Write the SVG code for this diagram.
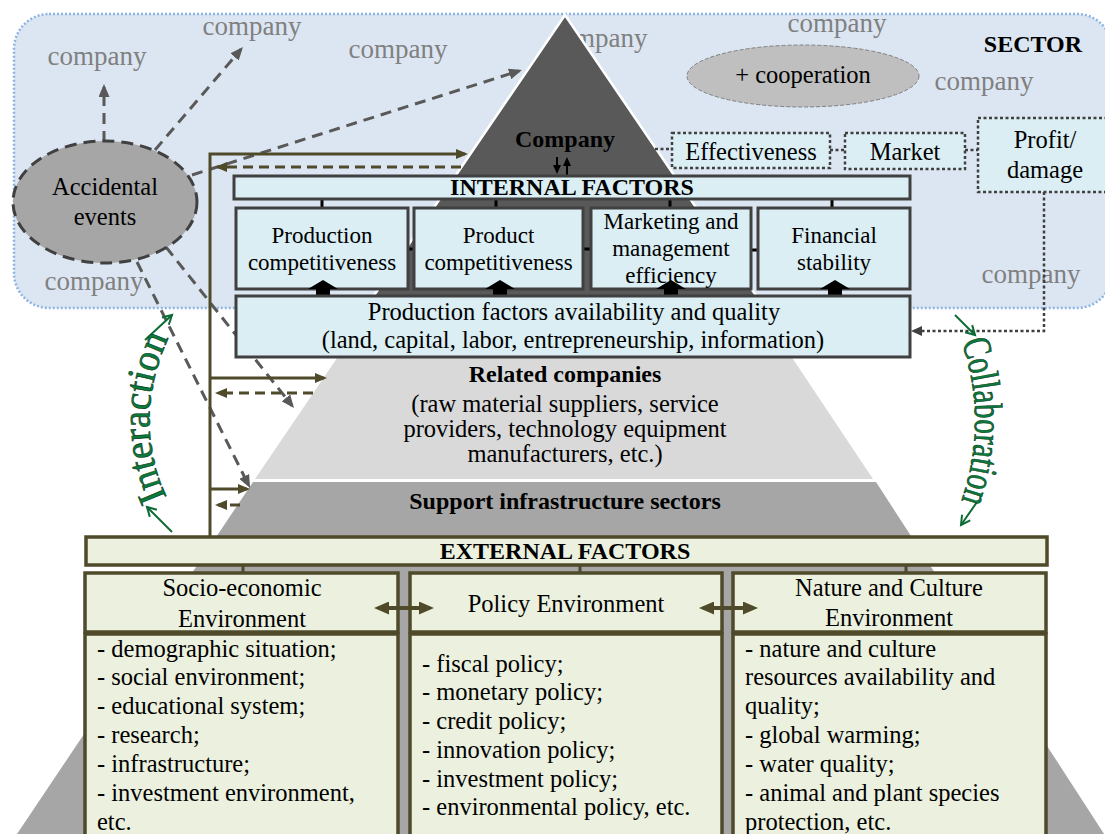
<svg xmlns="http://www.w3.org/2000/svg" width="1105" height="834" viewBox="0 0 1105 834">
<defs>
<style>
text{font-family:'Liberation Serif','Times New Roman',serif;fill:#000}
.n{font-size:24.5px}
.b{font-size:24px;font-weight:bold}
.s{font-size:23px}
.co{font-size:27px;fill:#808080}
.c{text-anchor:middle}
.ib{fill:#daeef3;stroke:#404040;stroke-width:3}
.eb{fill:#ebf1de;stroke:#4f4a2a;stroke-width:3.5}
.dot{fill:#daeef3;stroke:#404040;stroke-width:2.5;stroke-dasharray:3 2.5}
.dl{fill:none;stroke:#404040;stroke-width:2.5;stroke-dasharray:3 2.5}
.gd{fill:none;stroke:#595959;stroke-width:3;stroke-dasharray:11 7}
.ol{fill:none;stroke:#4f4a2a;stroke-width:3}
.old{fill:none;stroke:#4f4a2a;stroke-width:3;stroke-dasharray:10 6}
.gr{fill:none;stroke:#0d6b35;stroke-width:2}
.wa{font-size:40px;fill:#0b7a3b;stroke:#06361a;stroke-width:0.6}
.tk{stroke:#000;stroke-width:3}
.tko{stroke:#4f4a2a;stroke-width:3}
</style>
<marker id="ag" markerUnits="userSpaceOnUse" markerWidth="13" markerHeight="11" refX="10" refY="5.5" orient="auto"><path d="M0,0 L13,5.5 L0,11 z" fill="#595959"/></marker>
<marker id="ao" markerUnits="userSpaceOnUse" markerWidth="12" markerHeight="10" refX="9" refY="5" orient="auto"><path d="M0,0 L12,5 L0,10 z" fill="#4f4a2a"/></marker>
<marker id="ao2" markerUnits="userSpaceOnUse" markerWidth="15" markerHeight="13" refX="11" refY="6.5" orient="auto-start-reverse"><path d="M0,0 L15,6.5 L0,13 z" fill="#4f4a2a"/></marker>
<marker id="ad" markerUnits="userSpaceOnUse" markerWidth="11" markerHeight="10" refX="8" refY="5" orient="auto"><path d="M0,0 L11,5 L0,10 z" fill="#404040"/></marker>
<marker id="ab" markerUnits="userSpaceOnUse" markerWidth="9" markerHeight="8" refX="7" refY="4" orient="auto"><path d="M0,0 L9,4 L0,8 z" fill="#000"/></marker>
<marker id="agr" markerUnits="userSpaceOnUse" markerWidth="12" markerHeight="12" refX="10" refY="6" orient="auto" overflow="visible"><path d="M1,1 L10,6 L1,11" fill="none" stroke="#0d6b35" stroke-width="2"/></marker>
<path id="pi" d="M168,500 Q130,420 170,335" fill="none"/>
<path id="pc" d="M960,338 Q990,420 960,505" fill="none"/>
</defs>

<g id="sector">
<rect x="14" y="14" width="1098" height="294" rx="35" fill="#dce6f2" stroke="#8db3e2" stroke-width="2.5" stroke-dasharray="2 2"/>
<text class="co c" x="97" y="65">company</text>
<text class="co c" x="252" y="35">company</text>
<text class="co c" x="398" y="58">company</text>
<text class="co c" x="598" y="47">company</text>
<text class="co c" x="837" y="32">company</text>
<text class="co c" x="984" y="90">company</text>
<text class="co c" x="1031" y="283">company</text>
<text class="co c" x="94" y="290">company</text>
<text class="b" x="1033" y="52" text-anchor="middle">SECTOR</text>
</g>

<g id="pyramid">
<polygon points="253,482 876,482 1108,840 13,840" fill="#a6a6a6"/>
<polygon points="377,299 753,299 873,479 255,479" fill="#d9d9d9"/>
<polygon points="565,15 757,297 373,297" fill="#595959" stroke="#fff" stroke-width="2.5"/>
<text class="b c" x="565" y="147">Company</text>
<text class="b c" x="565" y="382">Related companies</text>
<text class="n c" x="565" y="412">(raw material suppliers, service</text>
<text class="n c" x="565" y="437">providers, technology equipment</text>
<text class="n c" x="565" y="462">manufacturers, etc.)</text>
<text class="b c" x="565" y="509">Support infrastructure sectors</text>
</g>

<g id="cooperation">
<ellipse cx="803" cy="76" rx="116" ry="31" fill="#bfbfbf" stroke="#7f7f7f" stroke-width="1" stroke-dasharray="4 2"/>
<text class="n c" x="803" y="83">+ cooperation</text>
</g>

<g id="connectors">
<line class="gd" x1="104" y1="142" x2="104" y2="87" marker-end="url(#ag)"/>
<line class="gd" x1="155" y1="150" x2="241" y2="49.3" marker-end="url(#ag)"/>
<line class="gd" x1="192" y1="175" x2="519.1" y2="70.9" marker-end="url(#ag)"/>
<line class="gd" x1="137" y1="262" x2="248.7" y2="485.3" marker-end="url(#ag)"/>
<line class="gd" x1="166" y1="247" x2="292.1" y2="405.7" marker-end="url(#ag)"/>
<path class="ol" d="M210,537 V154 H465" marker-end="url(#ao)"/>
<path class="old" d="M461,167 H218" marker-end="url(#ao)"/>
<path class="ol" d="M210,378 H324" marker-end="url(#ao)"/>
<path class="old" d="M313,393 H218" marker-end="url(#ao)"/>
<path class="ol" d="M210,489 H247" marker-end="url(#ao)"/>
<path class="old" d="M240,505 H218" marker-end="url(#ao)"/>
<line x1="557" y1="157" x2="557" y2="172" stroke="#000" stroke-width="2" marker-end="url(#ab)"/>
<line x1="567" y1="176" x2="567" y2="159" stroke="#000" stroke-width="2" marker-end="url(#ab)"/>
<line class="dl" x1="655" y1="149" x2="672" y2="149"/>
<line class="dl" x1="830" y1="150" x2="845" y2="150"/>
<line class="dl" x1="965" y1="150" x2="978" y2="150"/>
<path class="dl" d="M1044,192 V331 H914" marker-end="url(#ad)"/>
<line class="tk" x1="322" y1="199" x2="322" y2="208"/>
<line class="tk" x1="496" y1="199" x2="496" y2="208"/>
<line class="tk" x1="670" y1="199" x2="670" y2="208"/>
<line class="tk" x1="832" y1="199" x2="832" y2="208"/>
<line class="tk" x1="407" y1="249" x2="414" y2="249"/>
<line class="tk" x1="583" y1="249" x2="591" y2="249"/>
<line class="tk" x1="751" y1="250" x2="758" y2="250"/>
<line class="tko" x1="243" y1="564" x2="243" y2="573"/>
<line class="tko" x1="580" y1="564" x2="580" y2="573"/>
<line class="tko" x1="906" y1="564" x2="906" y2="573"/>
</g>

<g id="accidental">
<ellipse cx="105" cy="202" rx="92" ry="61" fill="#a6a6a6" stroke="#404040" stroke-width="3" stroke-dasharray="12 7"/>
<text class="n c" x="105" y="195">Accidental</text>
<text class="n c" x="105" y="225">events</text>
</g>

<g id="internal-factors">
<rect class="ib" x="234" y="176" width="676" height="23"/>
<text class="b c" x="572" y="195">INTERNAL FACTORS</text>
</g>
<g id="production-competitiveness">
<rect class="ib" x="236" y="208" width="172" height="81"/>
<text class="s c" x="322" y="243">Production</text>
<text class="s c" x="322" y="270">competitiveness</text>
</g>
<g id="product-competitiveness">
<rect class="ib" x="414" y="208" width="169" height="81"/>
<text class="s c" x="498.5" y="243">Product</text>
<text class="s c" x="498.5" y="270">competitiveness</text>
</g>
<g id="marketing">
<rect class="ib" x="591" y="208" width="160" height="81"/>
<text class="s c" x="671" y="229">Marketing and</text>
<text class="s c" x="671" y="256">management</text>
<text class="s c" x="671" y="283">efficiency</text>
</g>
<g id="financial">
<rect class="ib" x="758" y="208" width="152" height="81"/>
<text class="s c" x="834" y="243">Financial</text>
<text class="s c" x="834" y="270">stability</text>
</g>
<g id="block-arrows" fill="#000">
<polygon points="308,289 323,280 338,289 330,289 330,297 316,297 316,289"/>
<polygon points="485,289 500,280 515,289 507,289 507,297 493,297 493,289"/>
<polygon points="656,289 671,280 686,289 678,289 678,297 664,297 664,289"/>
<polygon points="820,289 835,280 850,289 842,289 842,297 828,297 828,289"/>
</g>
<g id="production-factors">
<rect class="ib" x="236" y="296" width="674" height="61"/>
<text class="n c" x="574" y="320">Production factors availability and quality</text>
<text class="n c" x="573" y="348">(land, capital, labor, entrepreneurship, information)</text>
</g>

<g id="effectiveness">
<rect class="dot" x="672" y="133" width="158" height="35"/>
<text class="n c" x="751" y="160">Effectiveness</text>
</g>
<g id="market">
<rect class="dot" x="845" y="133" width="120" height="36"/>
<text class="n c" x="905" y="160">Market</text>
</g>
<g id="profit">
<rect class="dot" x="978" y="118" width="132" height="74"/>
<text class="n c" x="1045" y="148">Profit/</text>
<text class="n c" x="1045" y="178">damage</text>
</g>

<g id="external-factors">
<rect class="eb" x="86" y="537" width="961" height="28"/>
<text class="b c" x="565" y="559">EXTERNAL FACTORS</text>
</g>
<g id="socio-economic">
<rect class="eb" x="85" y="573" width="313" height="59"/>
<rect class="eb" x="85" y="634" width="313" height="215"/>
<text class="n c" x="242" y="596">Socio-economic</text>
<text class="n c" x="242" y="627">Environment</text>
<text class="n" x="97" y="657">- demographic situation;</text>
<text class="n" x="97" y="685">- social environment;</text>
<text class="n" x="97" y="714">- educational system;</text>
<text class="n" x="97" y="743">- research;</text>
<text class="n" x="97" y="772">- infrastructure;</text>
<text class="n" x="97" y="801">- investment environment,</text>
<text class="n" x="97" y="830">etc.</text>
</g>
<g id="policy">
<rect class="eb" x="410" y="573" width="312" height="59"/>
<rect class="eb" x="410" y="634" width="312" height="215"/>
<text class="n c" x="566" y="612">Policy Environment</text>
<text class="n" x="422" y="672">- fiscal policy;</text>
<text class="n" x="422" y="700">- monetary policy;</text>
<text class="n" x="422" y="729">- credit policy;</text>
<text class="n" x="422" y="758">- innovation policy;</text>
<text class="n" x="422" y="787">- investment policy;</text>
<text class="n" x="422" y="815">- environmental policy, etc.</text>
</g>
<g id="nature">
<rect class="eb" x="733" y="573" width="313" height="59"/>
<rect class="eb" x="733" y="634" width="313" height="215"/>
<text class="n c" x="889" y="596">Nature and Culture</text>
<text class="n c" x="889" y="626">Environment</text>
<text class="n" x="745" y="657">- nature and culture</text>
<text class="n" x="745" y="685">resources availability and</text>
<text class="n" x="745" y="714">quality;</text>
<text class="n" x="745" y="743">- global warming;</text>
<text class="n" x="745" y="772">- water quality;</text>
<text class="n" x="745" y="801">- animal and plant species</text>
<text class="n" x="745" y="830">protection, etc.</text>
</g>
<g id="env-arrows">
<line x1="378" y1="608" x2="430" y2="608" stroke="#4f4a2a" stroke-width="4" marker-start="url(#ao2)" marker-end="url(#ao2)"/>
<line x1="703" y1="608" x2="754" y2="608" stroke="#4f4a2a" stroke-width="4" marker-start="url(#ao2)" marker-end="url(#ao2)"/>
</g>

<g id="interaction">
<line class="gr" x1="145" y1="340" x2="172" y2="315" marker-end="url(#agr)"/>
<line class="gr" x1="172" y1="532" x2="147" y2="507" marker-end="url(#agr)"/>
<text class="wa"><textPath href="#pi" startOffset="50%" text-anchor="middle" textLength="165" lengthAdjust="spacingAndGlyphs">Interaction</textPath></text>
</g>
<g id="collaboration">
<line class="gr" x1="955" y1="315" x2="975" y2="335" marker-end="url(#agr)"/>
<line class="gr" x1="977" y1="502" x2="961" y2="525" marker-end="url(#agr)"/>
<text class="wa"><textPath href="#pc" startOffset="50%" text-anchor="middle" textLength="162" lengthAdjust="spacingAndGlyphs">Collaboration</textPath></text>
</g>
</svg>
